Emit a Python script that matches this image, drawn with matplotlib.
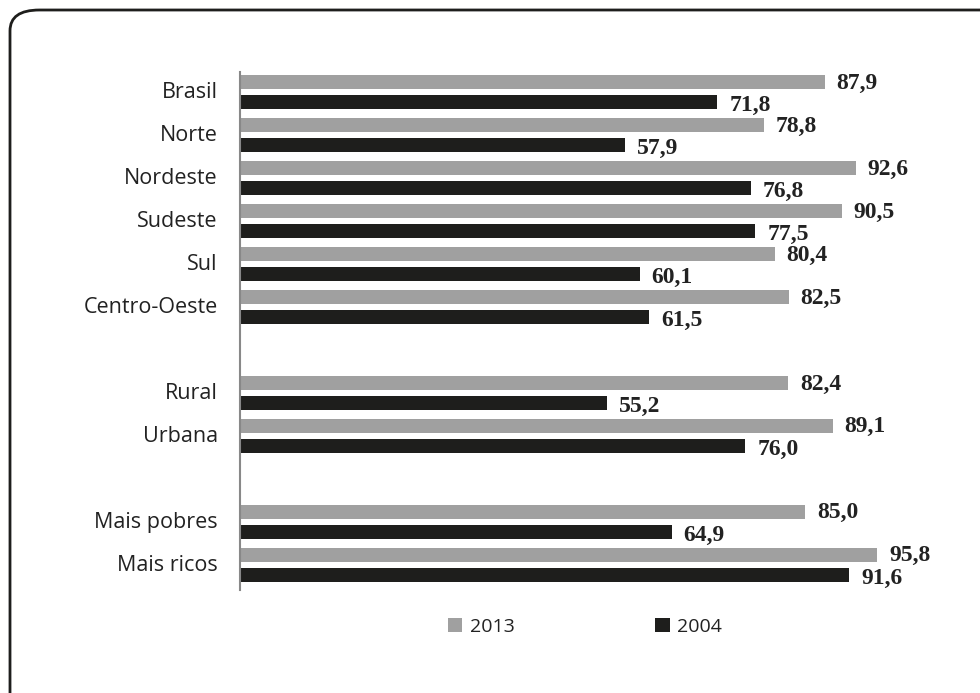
import matplotlib
matplotlib.use("Agg")
import matplotlib.pyplot as plt
from matplotlib.patches import FancyBboxPatch

categories = ["Brasil", "Norte", "Nordeste", "Sudeste", "Sul", "Centro-Oeste",
              "Rural", "Urbana", "Mais pobres", "Mais ricos"]
slots = [0, 1, 2, 3, 4, 5, 7, 8, 10, 11]
values_2013 = [87.9, 78.8, 92.6, 90.5, 80.4, 82.5, 82.4, 89.1, 85.0, 95.8]
values_2004 = [71.8, 57.9, 76.8, 77.5, 60.1, 61.5, 55.2, 76.0, 64.9, 91.6]

GREY = "#a0a0a0"
BLACK = "#1e1e1c"

fig = plt.figure(figsize=(9.8, 6.93), dpi=100)
ax = fig.add_axes([240 / 980, 1 - 590 / 693, 665 / 980, 518 / 693])

h = 0.33
off = 0.233
y13 = [s - off for s in slots]
y04 = [s + off for s in slots]
ax.barh(y13, values_2013, height=h, color=GREY, label="2013")
ax.barh(y04, values_2004, height=h, color=BLACK, label="2004")

for y, v in zip(y13, values_2013):
    ax.text(v + 1.8, y + 0.02, f"{v:.1f}".replace(".", ","), va="center", ha="left",
            fontsize=17, fontweight="bold", family="Liberation Serif", color="#222222")
for y, v in zip(y04, values_2004):
    ax.text(v + 1.8, y + 0.08, f"{v:.1f}".replace(".", ","), va="center", ha="left",
            fontsize=17, fontweight="bold", family="Liberation Serif", color="#222222")

ax.set_xlim(0, 100)
ax.set_ylim(11.58, -0.47)
ax.set_yticks([s - 0.05 for s in slots])
ax.set_yticklabels(categories, family="Open Sans", fontsize=15.5, color="#222222")
ax.tick_params(axis="y", length=0, pad=16)
ax.set_xticks([])
for side in ["top", "right", "bottom"]:
    ax.spines[side].set_visible(False)
ax.spines["left"].set_color("#888888")
ax.spines["left"].set_linewidth(1.5)

leg = fig.legend(loc="center", bbox_to_anchor=(585 / 980, 1 - 627 / 693), ncol=2,
                 frameon=False, handlelength=0.75, handleheight=0.75,
                 handletextpad=0.4, columnspacing=7.2,
                 prop={"family": "Open Sans", "size": 14})
for t in leg.get_texts():
    t.set_color("#222222")

border = FancyBboxPatch((10 / 980, 1 - 720 / 693), 1000 / 980, 710 / 693,
                        boxstyle="round,pad=0,rounding_size=0.03",
                        transform=fig.transFigure, fill=False,
                        edgecolor="#1e1e1c", linewidth=2, clip_on=False)
fig.patches.append(border)

fig.savefig("out.png", dpi=100)
